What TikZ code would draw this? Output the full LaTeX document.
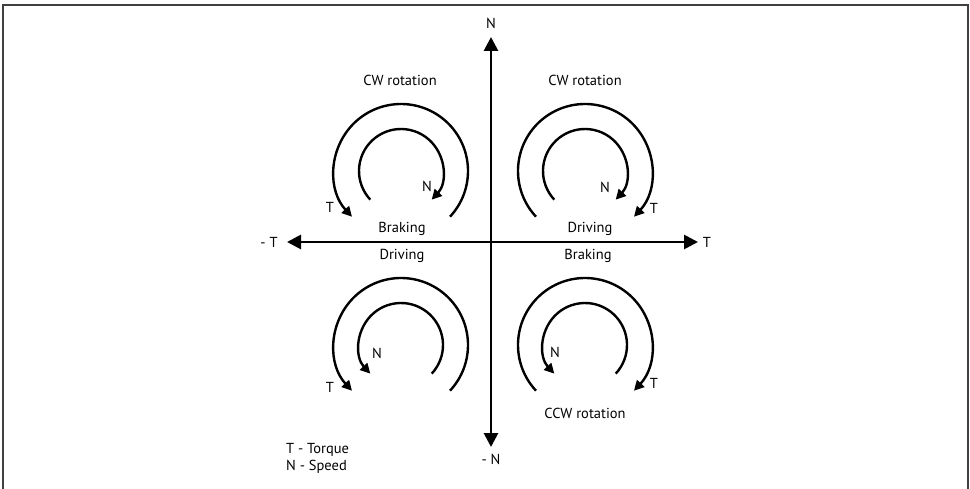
\documentclass[tikz,border=0pt]{standalone}
\usepackage{fontspec}
\setmainfont{PT Sans}
\usetikzlibrary{arrows.meta}
\begin{document}
\begin{tikzpicture}[x=1pt,y=1pt,
  lbl/.style={font=\fontsize{14.5}{17}\selectfont, inner sep=0pt},
  axis/.style={line width=2.8pt, -{Triangle[length=14pt,width=14pt]}},
  rot/.style={line width=2.4pt},
  rotarrow/.style={rot, -{Triangle[length=10pt,width=10pt]}},
  frame/.style={draw=black!75, line width=1.4pt}]
\useasboundingbox (0,0) rectangle (970,488);
\draw[frame] (3,-5) -- (3,483) -- (968,483) -- (968,-5);
% axes
\coordinate (O) at (491,246);
\coordinate (Ntip) at (491,451);
\coordinate (mNtip) at (491,41);
\coordinate (Ttip) at (698,246);
\coordinate (mTtip) at (287,246);
\draw[axis] (O) -- (Ntip);
\draw[axis] (O) -- (mNtip);
\draw[axis] (O) -- (Ttip);
\draw[axis] (O) -- (mTtip);
\node[lbl] (labN) at (491,465) {N};
\node[lbl] (labmN) at (491,29) {- N};
\node[lbl] (labT) at (707,246) {T};
\node[lbl] (labmT) at (269,246) {- T};
% quadrant centres
\coordinate (TL) at (401,317);
\coordinate (TR) at (585,317);
\coordinate (BL) at (401,143);
\coordinate (BR) at (585,143);
% top-left
\draw[rotarrow] (TL) ++(-43:67) arc[start angle=-43, end angle=223, radius=67];
\draw[rotarrow] (TL) ++(223:42) arc[start angle=223, end angle=-43, radius=42];
% top-right
\draw[rotarrow] (TR) ++(223:67) arc[start angle=223, end angle=-43, radius=67];
\draw[rotarrow] (TR) ++(223:42) arc[start angle=223, end angle=-43, radius=42];
% bottom-left
\draw[rotarrow] (BL) ++(-43:67) arc[start angle=-43, end angle=223, radius=67];
\draw[rotarrow] (BL) ++(-43:42) arc[start angle=-43, end angle=223, radius=42];
% bottom-right
\draw[rotarrow] (BR) ++(223:67) arc[start angle=223, end angle=-43, radius=67];
\draw[rotarrow] (BR) ++(-43:42) arc[start angle=-43, end angle=223, radius=42];
% labels
\node[lbl] (tlT) at (330,281) {T};
\node[lbl] (tlN) at (427,302) {N};
\node[lbl] (trN) at (605,301) {N};
\node[lbl] (trT) at (654,280) {T};
\node[lbl] (blN) at (377,135) {N};
\node[lbl] (blT) at (330,101) {T};
\node[lbl] (brN) at (555,136) {N};
\node[lbl] (brT) at (654,105) {T};
\node[lbl] (cw1) at (400,408) {CW rotation};
\node[lbl] (cw2) at (585,408) {CW rotation};
\node[lbl] (ccw) at (585,75) {CCW rotation};
\node[lbl] (brk1) at (402,259) {Braking};
\node[lbl] (drv1) at (590,259) {Driving};
\node[lbl] (drv2) at (402,232) {Driving};
\node[lbl] (brk2) at (588,232) {Braking};
\node[lbl, anchor=west, align=left] (legend) at (286,30) {T - Torque\\N - Speed};
\end{tikzpicture}
\end{document}
